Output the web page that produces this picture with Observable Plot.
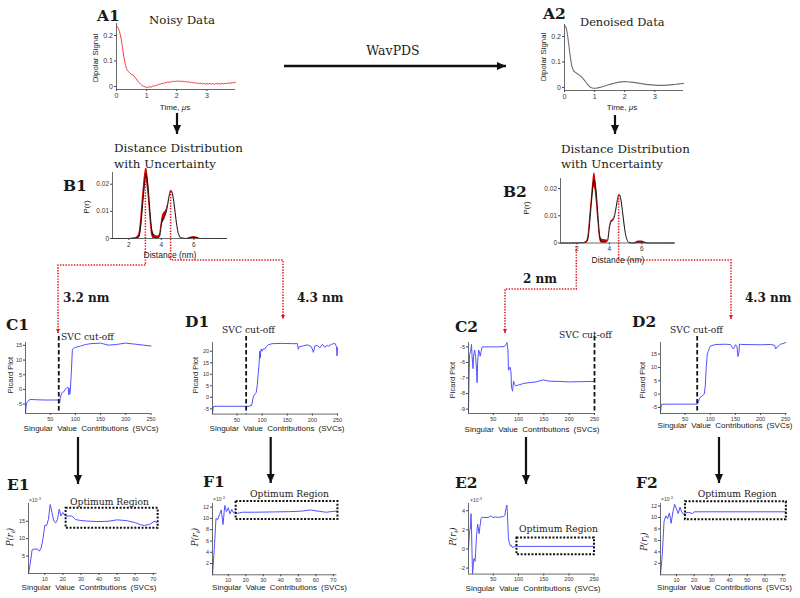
<!DOCTYPE html>
<html><head><meta charset="utf-8">
<script src="https://cdn.jsdelivr.net/npm/d3@7"></script>
<script src="https://cdn.jsdelivr.net/npm/@observablehq/plot@0.6"></script>
<style>
body{margin:0;background:#fff;}
#root{position:relative;width:800px;height:598px;overflow:hidden;background:#fff;}
#root > svg{position:absolute;margin:0;overflow:visible;}
</style></head><body><div id="root"></div>
<script>
// ---------------- DATA ----------------
// A1: noisy dipolar signal (time µs, value)
const a1Time = [0,0.05,0.1,0.15,0.2,0.25,0.3,0.35,0.4,0.45,0.5,0.55,0.6,0.65,0.7,0.75,0.8,0.85,0.9,0.95,1,1.05,1.1,1.15,1.2,1.25,1.3,1.35,1.4,1.45,1.5,1.55,1.6,1.65,1.7,1.75,1.8,1.85,1.9,1.95,2,2.05,2.1,2.15,2.2,2.25,2.3,2.35,2.4,2.45,2.5,2.55,2.6,2.65,2.7,2.75,2.8,2.85,2.9,2.95,3,3.05,3.1,3.15,3.2,3.25,3.3,3.35,3.4,3.45,3.5,3.55,3.6,3.65,3.7,3.75,3.8,3.85,3.9,3.95];
const a1Signal = [0.235,0.232,0.215,0.19,0.152,0.112,0.082,0.066,0.058,0.052,0.047,0.044,0.038,0.031,0.022,0.015,0.009,0.004,0.0,-0.002,-0.003,-0.004,-0.001,-0.003,0.002,0.001,0.005,0.004,0.009,0.008,0.012,0.011,0.015,0.014,0.017,0.016,0.019,0.018,0.021,0.019,0.021,0.02,0.022,0.019,0.021,0.018,0.02,0.017,0.019,0.015,0.016,0.013,0.015,0.012,0.014,0.011,0.013,0.01,0.012,0.009,0.011,0.01,0.012,0.009,0.011,0.008,0.012,0.01,0.011,0.009,0.013,0.01,0.012,0.011,0.014,0.012,0.013,0.015,0.014,0.017];
// A2: denoised dipolar signal
const a2Time = [0,0.05,0.1,0.15,0.2,0.25,0.3,0.35,0.45,0.55,0.65,0.75,0.85,0.95,1.05,1.2,1.4,1.6,1.8,2.0,2.2,2.4,2.6,2.8,3.0,3.2,3.4,3.6,3.8,3.95];
const a2Signal = [0.245,0.235,0.205,0.16,0.115,0.082,0.066,0.06,0.052,0.043,0.03,0.014,0.002,-0.003,-0.003,0.001,0.008,0.015,0.021,0.023,0.021,0.018,0.014,0.011,0.009,0.008,0.009,0.011,0.014,0.016];
// B: distance distributions (nm, P(r), uncertainty half-width)
const distR = [1.0,2.0,2.4,2.6,2.7,2.8,2.9,3.0,3.05,3.1,3.2,3.3,3.4,3.5,3.6,3.7,3.8,3.9,4.0,4.1,4.2,4.3,4.4,4.5,4.6,4.7,4.8,4.9,5.0,5.1,5.2,5.5,5.8,6.0,6.2,6.4,8.0];
const b1P = [0,0,0.0001,0.0006,0.003,0.009,0.016,0.022,0.0238,0.023,0.018,0.010,0.0035,0.0008,0.0003,0.0002,0.0003,0.001,0.005,0.0075,0.0083,0.0098,0.0128,0.0162,0.0176,0.016,0.012,0.007,0.003,0.001,0.0002,0,0.0002,0.0004,0.0002,0,0];
const b1U = [0,0,0.0002,0.0008,0.0022,0.0034,0.0034,0.0028,0.002,0.0028,0.0034,0.0028,0.0022,0.0015,0.001,0.0008,0.0006,0.0008,0.0013,0.0015,0.0015,0.001,0.0004,0.0002,0.0002,0.0002,0.0002,0.0002,0.0001,0.0001,0.0001,0,0.0003,0.0003,0.0003,0,0];
const b2P = [0,0,0.0001,0.0004,0.002,0.008,0.015,0.021,0.0232,0.0228,0.018,0.010,0.003,0.0007,0.0004,0.0004,0.0004,0.001,0.0055,0.0078,0.0082,0.0095,0.0125,0.016,0.0178,0.0162,0.012,0.007,0.003,0.001,0.0002,0,0.0003,0.0003,0.0001,0,0];
const b2U = [0,0,0,0.0003,0.0012,0.002,0.002,0.0024,0.0024,0.0028,0.0032,0.0024,0.0015,0.001,0.0009,0.0009,0.0007,0.0003,0.0003,0.0003,0.0003,0.0002,0.0001,0.0001,0.0001,0.0001,0.0001,0.0001,0,0,0,0,0.0004,0.0004,0.0002,0,0];
const b1Links = [3.05, 4.6];
const b2Links = [2.0, 4.6];
// C/D: Picard plots (SVC, value)
const c1Picard = [[1,-8],[2,-6],[3,-4.6],[5,-4.2],[8,-3.6],[12,-3.4],[20,-3.5],[40,-3.6],[60,-3.6],[67,-3.6],[68,-4.2],[69,-4.5],[70,-3.0],[72,-1.6],[74,-1.0],[77,-0.8],[80,0],[83,0.6],[85,0.8],[86,0.2],[87,-1.9],[88,0.4],[89,-1.5],[90,0],[92,6],[94,13.5],[96,14],[100,14.3],[110,14.8],[120,15.3],[130,15.6],[150,15.8],[165,15.1],[180,15.3],[200,15.8],[220,15.4],[240,15.0],[250,14.8]];
const d1Picard = [[1,-7.2],[2,-5],[3,-4],[10,-3.9],[30,-3.9],[60,-3.9],[75,-3.9],[76,-3.5],[78,-3.8],[80,-2.5],[82,0],[84,1],[86,1.5],[88,2],[90,5],[92,10],[94,15],[95,20],[96,17],[97,19.5],[98,21],[100,20],[102,21],[105,21],[108,22],[112,22.8],[120,23.3],[140,23.4],[160,23.3],[170,23.3],[172,20.8],[174,22],[180,22.2],[190,22.8],[198,22],[202,19.5],[205,22.3],[210,22.5],[215,21.5],[220,23],[225,21.7],[228,22.5],[232,22.2],[238,23],[245,23.4],[248,22],[249,18],[250,21.5]];
const c2Picard = [[1,-9.2],[2,-7.0],[3,-5.5],[5,-5.3],[7,-4.85],[8,-5.6],[10,-6.4],[11,-5.6],[13,-5.2],[15,-5.6],[17,-6.6],[18,-7.3],[19,-6.0],[21,-5.2],[23,-5.4],[24,-5.6],[26,-5.3],[28,-5.0],[40,-5.0],[60,-5.0],[72,-4.98],[75,-4.85],[77,-4.73],[79,-5.2],[80,-6.5],[82,-6.4],[83,-6.3],[85,-6.6],[86,-7.6],[88,-7.85],[90,-7.2],[92,-7.4],[94,-7.5],[100,-7.45],[110,-7.35],[120,-7.3],[135,-7.25],[148,-7.12],[160,-7.2],[180,-7.22],[200,-7.25],[250,-7.22]];
const d2Picard = [[1,-7],[2,-5],[3,-3.8],[20,-3.75],[50,-3.75],[74,-3.75],[75,-3.5],[78,-2],[80,-1.2],[85,-0.5],[88,0],[90,3],[92,10],[94,15],[96,16],[98,17],[100,18],[110,18.6],[130,18.7],[140,18.6],[144,17.5],[146,16.9],[148,17.6],[150,18.5],[153,18],[155,14.1],[157,15.5],[158,18.7],[165,18.6],[200,18.5],[220,18.6],[228,18.3],[230,16.9],[232,17.5],[235,17.8],[240,18.8],[245,18.9],[250,19.4]];
const svcCutoff = {C1: 67, D1: 68, C2: 250, D2: 74};
// E/F: P(r_i) (x10^-3) vs SVCs
const e1Prob = [[1,0],[2,3],[3,6.8],[4,7],[5,7],[6,7],[7,6.4],[8,7.3],[9,10],[10,13.8],[11,13.8],[12,15.5],[13,19.8],[14,17.5],[15,15],[16,14.5],[17,15.5],[18,18.5],[19,16.5],[20,17.5],[21,16.8],[22,16.5],[25,16.5],[27,15.5],[30,15.2],[35,15],[40,14.9],[45,15],[50,15.4],[55,15.2],[60,14.6],[63,14],[65,13.8],[68,14.1],[70,14.8],[71,15],[72,14.6]];
const f1Prob = [[1,0],[2,4.5],[3,10],[4,9.8],[5,10.7],[6,11.5],[7,8.9],[8,12.3],[9,11.2],[10,11.9],[11,10.8],[12,11.6],[13,11],[14,11.2],[15,10.9],[18,11.1],[25,11.1],[35,11.15],[45,11.2],[52,11.3],[57,11.5],[62,11.25],[66,11.1],[70,11.25],[72,11.3]];
const e2Prob = [[1,0],[2,1],[3,1.8],[4,2],[5,2.5],[6,3.7],[7,2],[8,-0.5],[9,-2.6],[10,-2],[11,-1.2],[12,-1.0],[13,-1.2],[14,-1.3],[15,-0.5],[16,0.5],[17,1.5],[18,2],[19,2.6],[20,2.3],[22,1.6],[24,2.5],[26,3.2],[28,3.35],[30,3.3],[40,3.3],[45,3.45],[50,3.3],[55,3.35],[60,3.3],[65,3.35],[70,3.4],[73,3.5],[75,4.2],[77,4.6],[78,3.9],[79,2.5],[80,1.2],[82,0.6],[84,0.3],[86,0.4],[88,0.15],[90,0.2],[95,0.3],[100,0.27],[150,0.27],[200,0.27],[250,0.27]];
const f2Prob = [[1,0],[2,3.5],[3,9.3],[4,10.3],[5,9.8],[6,10.8],[7,9.0],[8,11],[9,12.3],[10,11.5],[11,10.7],[12,11.8],[13,11],[14,10.5],[15,10.8],[17,10.9],[19,10.7],[20,11],[30,11],[50,11],[72,11]];
const optimumBox = {E1:[21.8,72.7,13.0,18.7], F1:[14.5,72.6,9.8,13.0], E2:[97,250.6,-0.61,1.14], F2:[15.1,72.1,9.6,12.75]};
// tick labels
const ticksA = {x:[0,1,2,3], y:[0,0.1,0.2]};
const ticksB = {x:[2,4,6], y:[0,0.01,0.02]};
const ticksSVC = [50,100,150,200,250];
const ticksSVC70 = [10,20,30,40,50,60,70];

// ---------------- DRAW ----------------
const root = document.getElementById("root");
const SANS = "'Liberation Sans', Arial, sans-serif";
const SERIF = "'DejaVu Serif', Georgia, serif";
const BLUE = "#5050ff";
const charts = {};

function panel(id, o) {
  const [x0,y0,x1,y1] = o.frame;
  const ml=22, mr=4, mt=4, mb=12;
  const svg = Plot.plot({
    width: (x1-x0)+ml+mr, height: (y1-y0)+mt+mb,
    marginLeft: ml, marginRight: mr, marginTop: mt, marginBottom: mb,
    style: {fontFamily: SANS, fontSize: o.fs+"px", color: "#333", background: "transparent", overflow: "visible"},
    x: {domain: o.x}, y: {domain: o.y},
    marks: [
      ...o.marks,
      Plot.ruleX([o.x[0]], {stroke: "#444", strokeWidth: 0.8}),
      Plot.ruleY([o.y[0]], {stroke: "#444", strokeWidth: 0.8}),
      Plot.axisX(o.xt, {anchor: "bottom", label: null, tickSize: 2, tickPadding: 1.5, tickFormat: o.xf || (d => String(d)), stroke: "#444"}),
      Plot.axisY(o.yt, {anchor: "left", label: null, tickSize: 2, tickPadding: 1.5, tickFormat: o.yf || (d => String(d)), stroke: "#444"})
    ]
  });
  svg.style.left = (x0-ml)+"px";
  svg.style.top = (y0-mt)+"px";
  svg.dataset.ox = x0-ml; svg.dataset.oy = y0-mt;
  root.appendChild(svg);
  charts[id] = svg;
  return svg;
}
const pairs = (xs, ys) => xs.map((x,i) => ({x, y: ys[i]}));
const rowsB = (p, u) => distR.map((r,i) => ({r, p: p[i], lo: Math.max(0,p[i]-u[i]), hi: p[i]+u[i]}));

// A panels
panel("A1", {frame:[116,23,235,89], x:[0,3.95], y:[-0.012,0.247], xt:ticksA.x, yt:ticksA.y, fs:7,
  marks:[Plot.line(pairs(a1Time,a1Signal), {x:"x", y:"y", stroke:"#ff3b3b", strokeWidth:1})]});
panel("A2", {frame:[564,24,683,90], x:[0,3.95], y:[-0.012,0.247], xt:ticksA.x, yt:ticksA.y, fs:7,
  marks:[Plot.line(pairs(a2Time,a2Signal), {x:"x", y:"y", stroke:"#707070", strokeWidth:1.1, curve:"catmull-rom"})]});
// B panels
for (const [id, fr, yd, p, u] of [["B1",[112,172,226,238],[0,0.0243],b1P,b1U],["B2",[560,177.5,674,242],[0,0.0237],b2P,b2U]]) {
  const rows = rowsB(p,u);
  panel(id, {frame:fr, x:[1,8], y:yd, xt:ticksB.x, yt:ticksB.y, fs:6.5,
    marks:[
      Plot.areaY(rows, {x:"r", y1:"lo", y2:"hi", fill:"#dc0000", curve:"monotone-x"}),
      Plot.line(rows, {x:"r", y:"p", stroke:"#111", strokeWidth:1, curve:"monotone-x"})
    ]});
}
// C / D panels
const picardPanels = [
  ["C1", [25,342,150.5,413], [1,250], [-8.2,16.0], [-5,0,5,10,15], c1Picard],
  ["D1", [211.7,341.7,337.7,413.3], [1,252], [-7.3,23.8], [-5,0,5,10,15,20], d1Picard],
  ["C2", [468,342.3,594,413.3], [1,250], [-9.28,-4.72], [-9,-8,-7,-6,-5], c2Picard],
  ["D2", [659.5,341.7,785.7,412.7], [1,252], [-7.25,19.35], [-5,0,5,10,15], d2Picard]
];
for (const [id, fr, xd, yd, yt, data] of picardPanels) {
  panel(id, {frame:fr, x:xd, y:yd, xt:ticksSVC, yt, fs:5.5,
    marks:[
      Plot.line(data, {x:d=>d[0], y:d=>d[1], stroke:BLUE, strokeWidth:1}),
      Plot.ruleX([svcCutoff[id]], {stroke:"#111", strokeWidth:1.8, strokeDasharray:"4.5,2.5", insetTop:-6})
    ]});
}
// E / F panels
const probPanels = [
  ["E1", [28.3,503.3,156.7,573.3], [1,72], [0,20.1], [5,10,15], ticksSVC70, e1Prob],
  ["F1", [212.3,503,336.7,574.3], [1,72], [0,12.65], [2,4,6,8,10,12], ticksSVC70, f1Prob],
  ["E2", [468.3,502.7,594,573.3], [1,250], [-2.63,4.76], [-2,0,2,4], ticksSVC, e2Prob],
  ["F2", [660,502.7,785.7,574], [1,72], [0,12.45], [2,4,6,8,10,12], ticksSVC70, f2Prob]
];
for (const [id, fr, xd, yd, yt, xt, data] of probPanels) {
  const b = optimumBox[id];
  panel(id, {frame:fr, x:xd, y:yd, xt, yt, fs:5.5,
    marks:[
      Plot.line(data, {x:d=>d[0], y:d=>d[1], stroke:BLUE, strokeWidth:1}),
      Plot.rect([b], {x1:d=>d[0], x2:d=>d[1], y1:d=>d[2], y2:d=>d[3], fill:"none", stroke:"#111", strokeWidth:2, strokeDasharray:"2,1.6"})
    ]});
}

// ---------------- ANNOTATION OVERLAY ----------------
const ov = d3.select(root).append("svg").attr("width",800).attr("height",598)
  .style("left","0px").style("top","0px").style("pointer-events","none");
const defs = ov.append("defs");
function marker(id, color, w, l) {
  defs.append("marker").attr("id",id).attr("viewBox",`0 0 ${l} ${w}`).attr("refX",l).attr("refY",w/2)
    .attr("markerWidth",l).attr("markerHeight",w).attr("markerUnits","userSpaceOnUse").attr("orient","auto")
    .append("path").attr("d",`M0,0L${l},${w/2}L0,${w}z`).attr("fill",color);
}
marker("ab","#111",8,9);
marker("ar","#e0141e",4.5,4.5);
function arrow(x1,y1,x2,y2,w=2.2){ ov.append("line").attr("x1",x1).attr("y1",y1).attr("x2",x2).attr("y2",y2).attr("stroke","#111").attr("stroke-width",w).attr("marker-end","url(#ab)"); }
function T(x,y,s,o={}) {
  const t = ov.append("text").attr("font-family",o.fam||SERIF).attr("font-size",o.size||10)
    .attr("font-weight",o.weight||"normal").attr("font-style",o.italic?"italic":"normal")
    .attr("text-anchor",o.anchor||"start").attr("fill",o.fill||"#1a1a1a");
  if (o.ws) t.attr("word-spacing",o.ws);
  if (o.rot) t.attr("transform",`translate(${x},${y}) rotate(${o.rot})`); else t.attr("x",x).attr("y",y);
  if (typeof s === "string") t.text(s); else s(t);
  return t;
}
// px helpers from chart scales
const px = (id, v) => +charts[id].dataset.ox + charts[id].scale("x").apply(v);
const py = (id, v) => +charts[id].dataset.oy + charts[id].scale("y").apply(v);

// Panel letters
const bold = {weight:"bold", size:15.5};
T(97,21,"A1",bold); T(543,18.5,"A2",bold);
T(63,191,"B1",bold); T(503,197,"B2",bold);
T(6,330,"C1",bold); T(185,327,"D1",bold); T(455,331.7,"C2",bold); T(632,327,"D2",bold);
T(7,490,"E1",bold); T(203,486.7,"F1",bold); T(455,488,"E2",bold); T(636,488.3,"F2",bold);
// titles
T(149,24,"Noisy Data",{size:11.8}); T(580,26,"Denoised Data",{size:11.4});
T(393,55,"WavPDS",{size:12.5,anchor:"middle"});
arrow(284,66,506,66,2.5);
arrow(177,113,177,134); arrow(615,115,615,134);
T(114,151.7,"Distance Distribution",{size:11.9}); T(114,168.3,"with Uncertainty",{size:11.9});
T(561,152.7,"Distance Distribution",{size:11.9}); T(561,168.3,"with Uncertainty",{size:11.9});
// axis labels A
for (const [x,y] of [[98,58],[546,57]]) T(x,y,"Dipolar Signal",{fam:SANS,size:7.8,rot:-90,anchor:"middle"});
for (const [x,y] of [[175,110],[622,110]]) T(x,y,t=>{t.append("tspan").text("Time,  ");t.append("tspan").attr("font-style","italic").text("μ");t.append("tspan").text("s");},{fam:SANS,size:8,anchor:"middle"});
// axis labels B
for (const [x,y] of [[89,207],[529,208]]) T(x,y,"P(r)",{fam:SANS,size:8,rot:-90,anchor:"middle"});
for (const [x,y] of [[170,257.7],[618,262.7]]) T(x,y,"Distance (nm)",{fam:SANS,size:8.5,anchor:"middle"});
// red connectors
function redPath(pts){ ov.append("path").attr("d","M"+pts.map(p=>p.join(",")).join("L")).attr("fill","none")
  .attr("stroke","#e0141e").attr("stroke-width",1.5).attr("stroke-dasharray","1.4,1.4").attr("marker-end","url(#ar)"); }
{
  const xa = px("B1",b1Links[0]), xb = px("B1",b1Links[1]);
  redPath([[xa,py("B1",0.022)],[xa,265],[58,265],[58,333]]);
  redPath([[xb,py("B1",0.0172)],[xb,260],[283,260],[283,319]]);
  const xc = px("B2",b2Links[0]), xd = px("B2",b2Links[1]);
  redPath([[xc,246],[xc,289],[505,289],[505,333]]);
  redPath([[xd,py("B2",0.0172)],[xd,260],[731,260],[731,319]]);
}
const bnm = {weight:"bold", size:12};
T(63,302.3,"3.2 nm",bnm); T(297,302,"4.3 nm",bnm); T(523,283,"2 nm",bnm); T(745,302,"4.3 nm",bnm);
// SVC cut-off labels
for (const [x,y] of [[61,340],[222,333.3],[559,338],[670,332.7]]) T(x,y,"SVC cut-off",{size:9.2});
for (const [x,y] of [[13,375],[198,375],[455,380],[645,380]]) T(x,y,"Picard Plot",{fam:SANS,size:7.5,rot:-90,anchor:"middle"});
for (const [x,y] of [[91,430.7],[277,430.7],[532,431.7],[725,428.3],[89,590],[279.5,590],[533,590.7],[724.5,590]])
  T(x,y,"Singular Value Contributions (SVCs)",{fam:SANS,size:8,anchor:"middle",ws:2});
// C/D -> E/F arrows
arrow(78,437,78,484); arrow(270.7,437,270.7,483); arrow(526,437,526,484); arrow(719,437,719,483);
// E/F labels
for (const [x,y] of [[70,505],[250,496.7],[519,531.7],[697.7,496.7]]) T(x,y,"Optimum Region",{size:9.2});
for (const [x,y] of [[29,502.3],[213,501.3],[470,501.7],[661,501]])
  T(x,y,t=>{t.append("tspan").text("×10");t.append("tspan").attr("dy",-2).attr("font-size",4).text("-3");},{fam:SANS,size:5,fill:"#444"});
for (const [x,y] of [[13,537],[198,537],[456,536.7],[647,541.7]])
  T(x,y,t=>{t.append("tspan").text("P(r");t.append("tspan").attr("dy",2).attr("font-size",6).text("i");t.append("tspan").attr("dy",-2).text(")");},{size:8.5,italic:true,rot:-90,anchor:"middle"});
</script></body></html>
